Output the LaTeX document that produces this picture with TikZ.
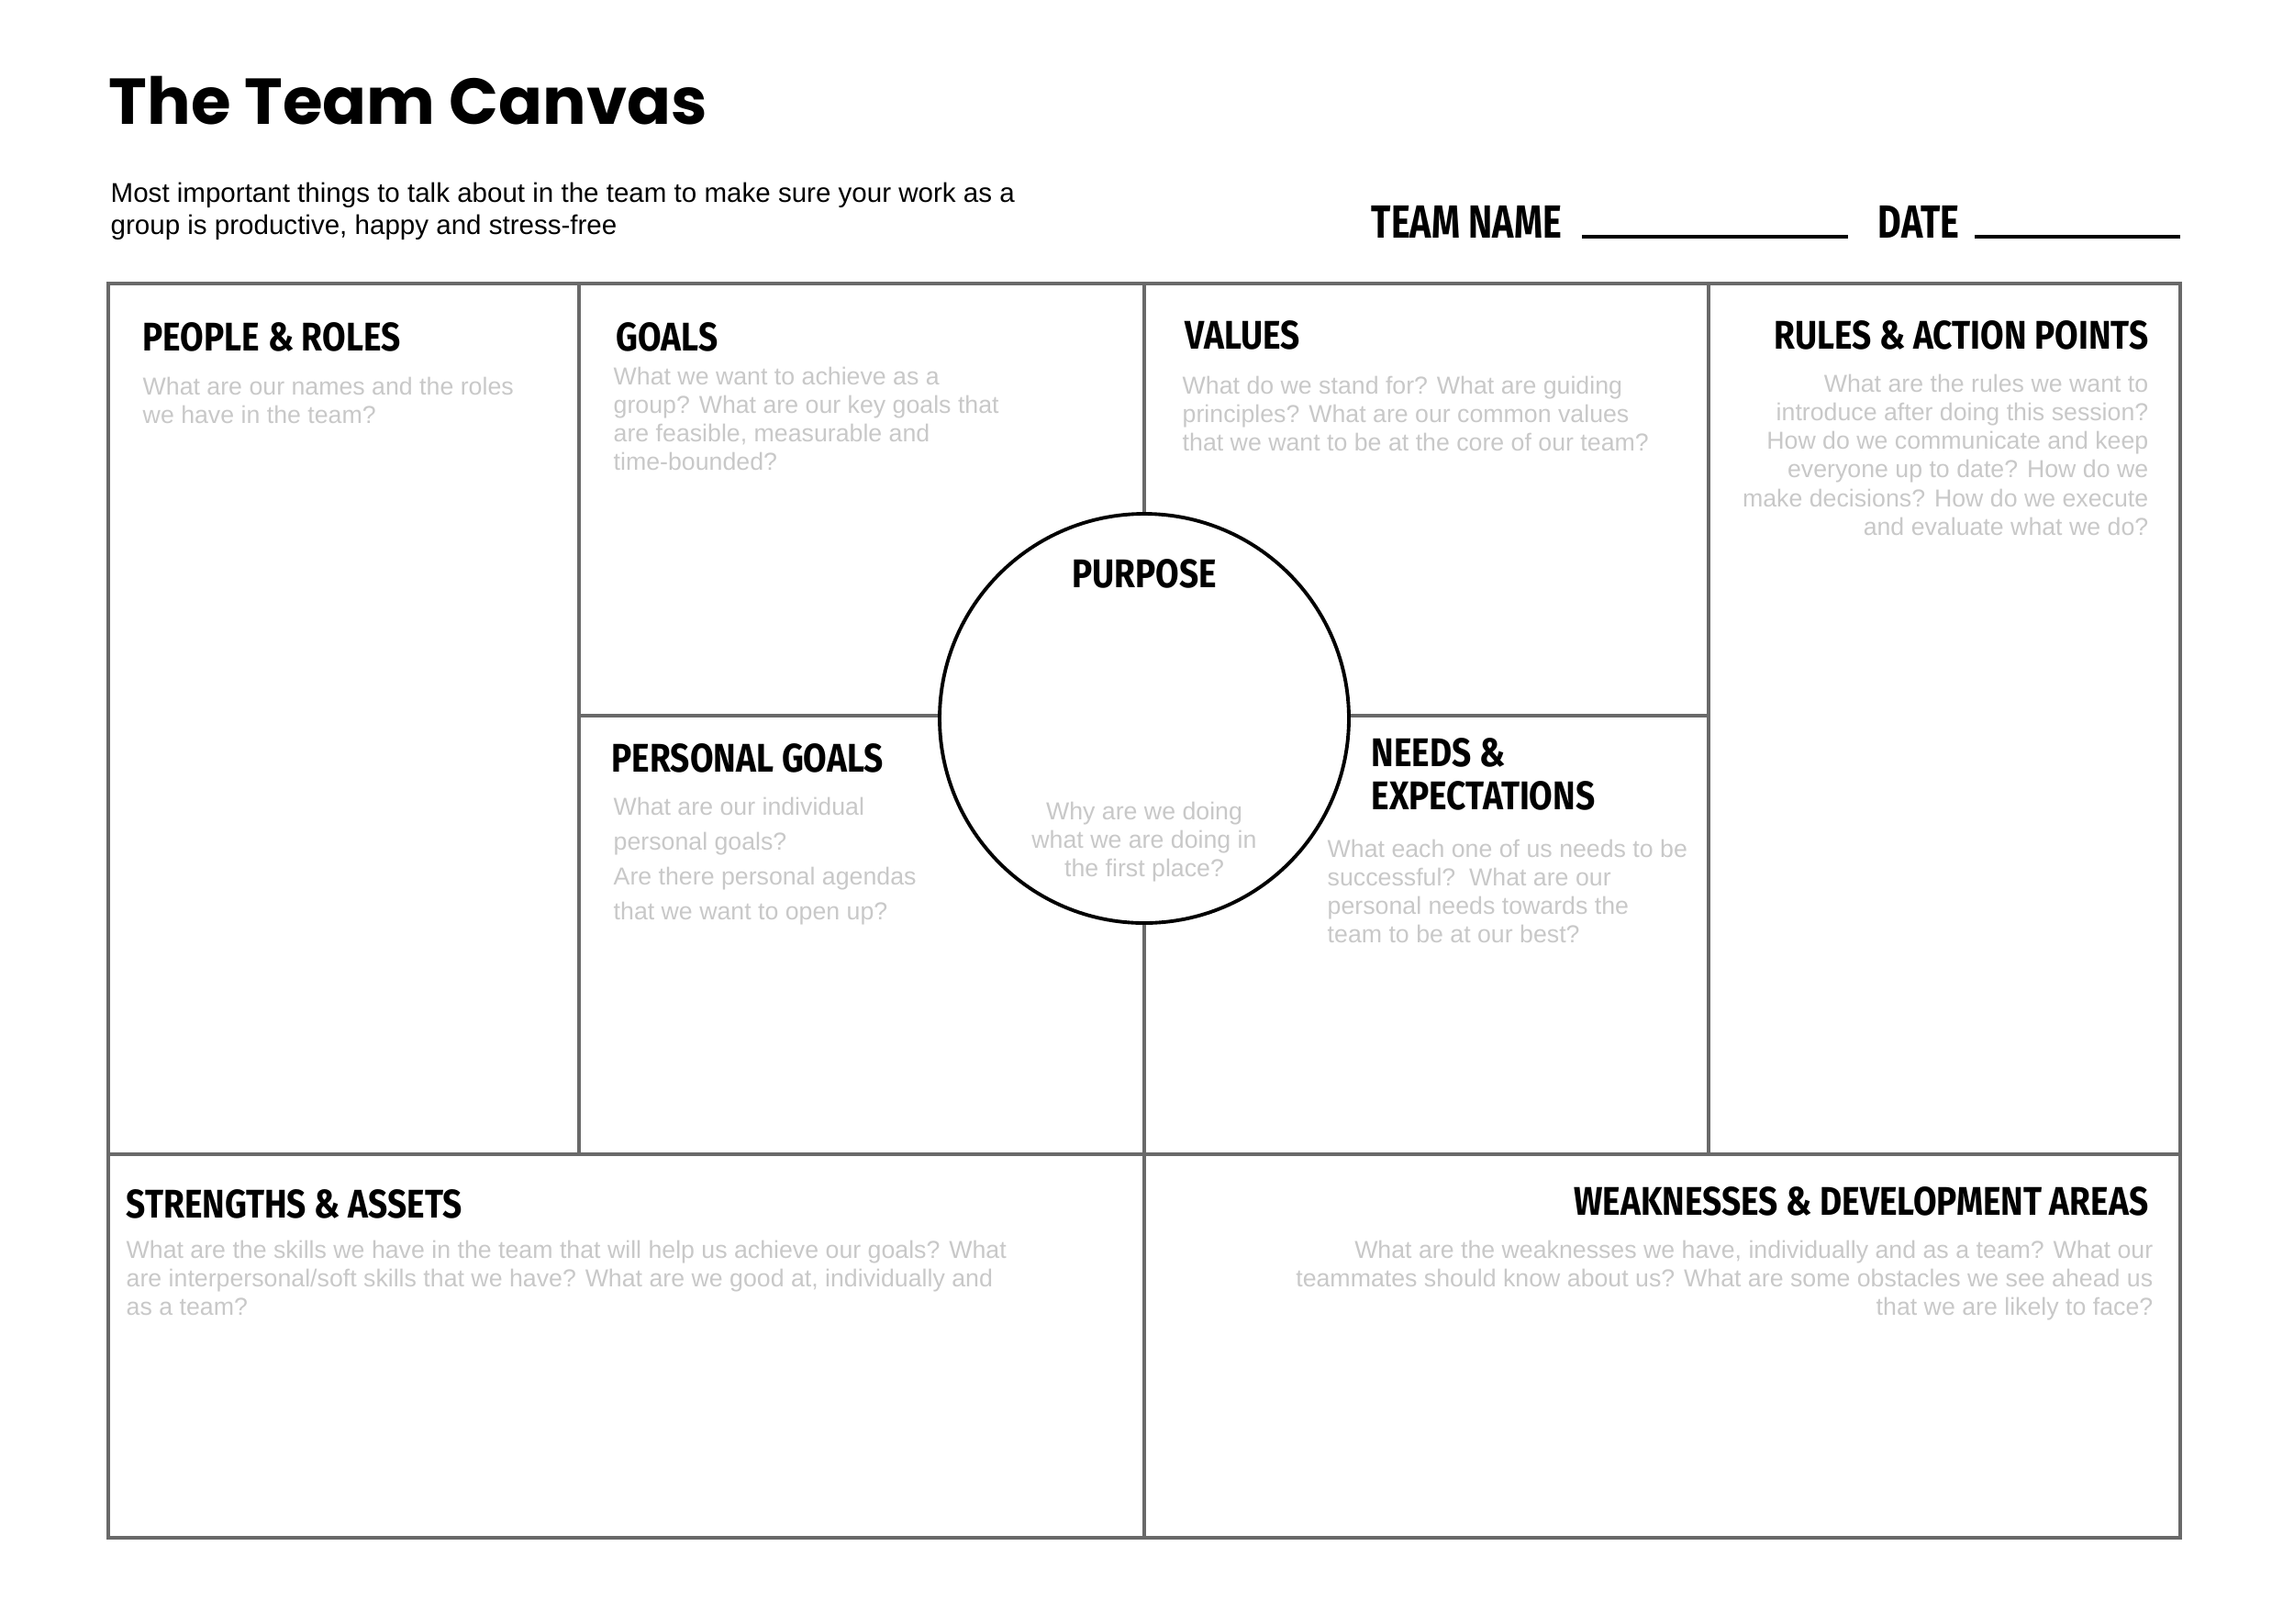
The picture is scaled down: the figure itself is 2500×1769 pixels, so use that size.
\documentclass[tikz,border=0pt]{standalone}
\usepackage{fontspec}
\setmainfont{Liberation Sans}
\newfontfamily\titlefont{Poppins}
\newfontfamily\headfont[FakeStretch=0.85]{Fira Sans}
\newfontfamily\labelfont[FakeStretch=0.78]{Fira Sans}
\usetikzlibrary{positioning}
\definecolor{framegray}{RGB}{105,105,105}
\definecolor{askgray}{RGB}{200,200,200}
\tikzset{
  cell/.style={draw=framegray, line width=1.1pt},
  head/.style={font=\headfont\bfseries\fontsize{12.4}{13.4}\selectfont, inner sep=0pt, anchor=west},
  ask/.style={font=\fontsize{7.6}{8.9}\selectfont, text=askgray, inner sep=0pt, align=left, anchor=north west},
  blank/.style={line width=1.1pt, black},
}

\begin{document}
\begin{tikzpicture}[x=0.01cm,y=-0.01cm]
\useasboundingbox (0,0) rectangle (2500,1769);
% heading of the sheet
\node[font=\titlefont\bfseries\fontsize{20.1}{24}\selectfont, inner sep=0pt, anchor=base west] (title) at (118,135) {The Team Canvas};
\node[font=\fontsize{8.4}{10.2}\selectfont, inner sep=0pt, align=left, anchor=north west] (intro) at (120,198)
  {Most important things to talk about in the team to make sure your work as a\\group is productive, happy and stress-free};
\node[head, font=\labelfont\bfseries\fontsize{14.4}{16}\selectfont] (teamname) at (1494,242) {TEAM NAME};
\node[head, font=\labelfont\bfseries\fontsize{14.4}{16}\selectfont] (date) at (2046,242) {DATE};
\coordinate (tn1) at (1724,258); \coordinate (tn2) at (2014,258);
\coordinate (dt1) at (2152,258); \coordinate (dt2) at (2376,258);
\draw[blank] (tn1) -- (tn2);
\draw[blank] (dt1) -- (dt2);
% the grid of fields
\draw[cell] (118,309) rectangle (2376,1676);
\foreach \x in {631,1862} \draw[cell] (\x,309) -- (\x,1258);
\draw[cell] (1247,309) -- (1247,1676);
\draw[cell] (118,1258) -- (2376,1258);
\draw[cell] (631,780) -- (1862,780);
\filldraw[fill=white, draw=black, line width=1.1pt] (1247,783) circle [radius=223];
% titles of the fields
\node[head] (people) at (155,367) {PEOPLE \& ROLES};
\node[head] (goals) at (671,367) {GOALS};
\node[head] (values) at (1291,365) {VALUES};
\node[head, anchor=east] (rules) at (2342,365) {RULES \& ACTION POINTS};
\node[head, anchor=center] (purpose) at (1247,625) {PURPOSE};
\node[head] (personal) at (666,826) {PERSONAL GOALS};
\node[head, anchor=north west, align=left] (needs) at (1494,804) {NEEDS \&\\EXPECTATIONS};
\node[head] (strengths) at (137,1312) {STRENGTHS \& ASSETS};
\node[head, anchor=east] (weak) at (2342,1309) {WEAKNESSES \& DEVELOPMENT AREAS};
% questions
\node[ask] (peopleq) at (155,410) {What are our names and the roles\\we have in the team?};
\node[ask] (goalsq) at (668,399) {What we want to achieve as a\\group? What are our key goals that\\are feasible, measurable and\\time-bounded?};
\node[ask] (valuesq) at (1288,409) {What do we stand for? What are guiding\\principles? What are our common values\\that we want to be at the core of our team?};
\node[ask, align=right, anchor=north east] (rulesq) at (2342,407) {What are the rules we want to\\introduce after doing this session?\\How do we communicate and keep\\everyone up to date? How do we\\make decisions? How do we execute\\and evaluate what we do?};
\node[ask, font=\fontsize{7.6}{10.8}\selectfont] (personalq) at (668,868) {What are our individual\\personal goals?\\Are there personal agendas\\that we want to open up?};
\node[ask, align=center, anchor=north] (purposeq) at (1247,873) {Why are we doing\\what we are doing in\\the first place?};
\node[ask] (needsq) at (1446,914) {What each one of us needs to be\\successful?\ \ What are our\\personal needs towards the\\team to be at our best?};
\node[ask] (strengthsq) at (137,1351) {What are the skills we have in the team that will help us achieve our goals? What\\are interpersonal/soft skills that we have? What are we good at, individually and\\as a team?};
\node[ask, align=right, anchor=north east] (weakq) at (2347,1351) {What are the weaknesses we have, individually and as a team? What our\\teammates should know about us? What are some obstacles we see ahead us\\that we are likely to face?};
\end{tikzpicture}
\end{document}
